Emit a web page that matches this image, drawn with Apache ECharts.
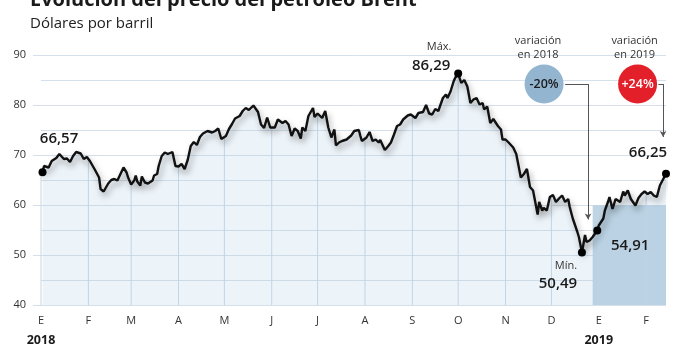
<!DOCTYPE html>
<html>
<head>
<meta charset="utf-8">
<script src="https://cdn.jsdelivr.net/npm/echarts@6/dist/echarts.min.js"></script>
<style>html,body{margin:0;padding:0;background:#fff}#chart{width:682px;height:351px}</style>
</head>
<body>
<div id="chart"></div>
<script>
// days since 2018-01-01 and Brent close (USD/barrel)
const days = [1,2,5,7,10,12,15,17,19,21,23,26,28,30,32,35,38,39,41,42,44,46,48,50,52,54,56,57,59,61,62,63,65,66,68,70,73,74,76,77,79,81,83,86,88,90,92,94,96,98,100,102,104,106,109,112,114,116,118,121,123,125,127,130,132,134,136,139,142,144,146,148,150,153,155,158,160,162,164,166,168,170,171,173,175,178,179,181,184,186,188,190,192,193,195,197,200,203,205,208,209,210,213,215,217,219,221,222,225,227,229,231,233,235,237,240,242,245,247,250,252,254,256,258,260,263,265,266,268,270,271,273,275,277,279,281,283,285,287,289,290,292,294,296,299,301,302,304,306,309,311,312,314,316,318,320,322,323,325,326,328,329,331,333,335,337,339,341,343,345,346,348,349,351,352,354,356,357,359,361,364,365,368,369,371,372,374,375,376,379,381,382,384,386,387,389,391,393,395,397,399,401,403,405,409];
const prices = [66.57,67.8,67.5,68.8,69.4,70.2,69.2,69.3,68.6,69.8,70.6,70.3,69.2,69.6,68.8,67.2,65.5,63.2,62.7,62.9,64.3,65.0,65.2,64.9,66.2,67.5,66.5,65.5,64.1,64.9,65.9,64.7,63.9,65.7,64.5,64.3,64.9,65.9,66.2,67.8,69.8,70.5,70.2,70.6,67.8,67.7,68.2,67.2,69.0,71.8,72.6,72.0,73.6,74.3,74.8,74.5,74.8,75.3,73.2,73.8,75.2,76.2,77.3,77.8,78.8,79.4,79.0,79.9,78.6,76.1,75.4,77.5,75.5,75.5,77.1,76.4,76.8,76.1,73.8,75.3,74.8,73.3,75.5,74.8,77.8,79.4,77.6,78.3,77.4,78.8,75.5,73.5,75.1,71.9,72.5,72.8,73.1,73.9,74.8,75.0,73.8,72.8,73.5,74.6,72.8,73.1,72.5,73.0,71.0,71.7,72.5,74.1,75.8,76.1,77.1,77.9,78.1,77.4,78.4,78.6,80.0,78.3,78.1,79.2,78.8,81.4,82.1,81.4,82.7,84.7,85.4,86.29,84.4,85.0,83.7,80.4,81.1,81.4,80.1,80.4,79.1,79.7,76.4,77.2,75.8,75.1,73.1,73.1,72.5,71.5,70.2,69.8,65.5,66.2,67.2,63.6,62.9,62.6,58.1,60.6,58.9,59.4,58.9,61.6,62.0,60.6,61.3,61.9,60.6,61.2,59.6,57.3,57.6,54.6,53.6,50.49,54.0,52.6,52.9,53.6,54.91,55.9,57.3,58.9,60.6,61.6,59.2,60.2,61.2,60.6,62.7,61.9,62.9,61.2,61.6,59.9,61.4,62.2,62.7,62.2,62.6,61.9,61.6,63.9,66.25];

const monthDays = [0,31,59,90,120,151,181,212,243,273,304,334,365,396];
const monthLabels = ['E','F','M','A','M','J','J','A','S','O','N','D','E','F'];
const yearLabels = {0: '2018', 365: '2019'};
const yTicks = [40, 90, 10]; // min, max, step
const changeLabels = ['-20%', '+24%'];
const changeYears = ['2018', '2019'];

const GRID = '#d5e0ea';
const FONT = '"Open Sans", "Noto Sans", sans-serif';
const fmt = v => v.toFixed(2).replace('.', ',');
const priceOn = d => prices[days.indexOf(d)];
const nearest = d => {
  let b = 0;
  days.forEach((x, i) => { if (Math.abs(x - d) < Math.abs(days[b] - d)) b = i; });
  return prices[b];
};
const lastDay = days[days.length - 1];
const maxDay = days[prices.indexOf(Math.max(...prices))];
const minDay = days[prices.indexOf(Math.min(...prices))];
const firstDay2019 = days.find(d => d >= 364);
const lastDay2018 = days[days.indexOf(firstDay2019) - 1];

function dot(day, offset) {
  return {
    coord: [day, priceOn(day)], symbol: 'circle', symbolSize: 8, itemStyle: {color: '#000'},
    label: {show: true, position: 'inside', offset, formatter: fmt(priceOn(day)),
      fontFamily: FONT, fontSize: 15, fontWeight: 600, color: '#1a1a1a'}
  };
}
function note(coord, text, offset, style) {
  return {
    coord, symbol: 'circle', symbolSize: 0, itemStyle: {color: 'transparent'},
    label: Object.assign({show: true, position: 'inside', offset, formatter: text,
      fontFamily: FONT, fontSize: 11, color: '#333', lineHeight: 14}, style || {})
  };
}
function bubble(coord, text, color, textColor) {
  return {
    coord, symbol: 'circle', symbolSize: 39, itemStyle: {color},
    label: {show: true, position: 'inside', formatter: text, fontFamily: FONT,
      fontSize: 12.5, fontWeight: 600, color: textColor}
  };
}

const bubbleY = 84.2;
const chart = echarts.init(document.getElementById('chart'), null, {renderer: 'canvas'});
chart.setOption({
  animation: false,
  textStyle: {fontFamily: FONT},
  graphic: [
    {type: 'text', x: 30, y: 0, style: {text: 'Evolución del precio del petróleo Brent',
      font: 'bold 20px ' + FONT, fill: '#1a1a1a', verticalAlign: 'middle'}},
    {type: 'text', x: 30, y: 24, style: {text: 'Dólares por barril',
      font: '15px ' + FONT, fill: '#222', verticalAlign: 'middle'}}
  ],
  grid: {left: 41, right: 16, top: 55, bottom: 44},
  xAxis: {
    type: 'value', min: 0, max: lastDay,
    axisLine: {show: false}, axisTick: {show: false}, splitLine: {show: false},
    axisLabel: {
      customValues: monthDays, margin: 8, color: '#333', fontSize: 11, lineHeight: 16,
      formatter: v => {
        const m = monthLabels[monthDays.indexOf(v)];
        return yearLabels[v] ? m + '\n{y|' + yearLabels[v] + '}' : m;
      },
      rich: {y: {fontSize: 12.5, fontWeight: 'bold', color: '#1a1a1a', lineHeight: 22}}
    }
  },
  yAxis: {
    type: 'value', min: yTicks[0], max: yTicks[1], interval: yTicks[2],
    axisLine: {show: false},
    axisTick: {show: true, length: 8, lineStyle: {color: GRID}},
    axisLabel: {margin: 15, color: '#333', fontSize: 11, padding: [0, 0, 7, 0]},
    splitLine: {lineStyle: {color: GRID}},
    minorTick: {show: false, splitNumber: 2},
    minorSplitLine: {show: true, lineStyle: {color: GRID}}
  },
  series: [
    {
      // month gridlines, only under the price line
      type: 'bar', barWidth: 1, silent: true,
      itemStyle: {color: '#c8d8e4'},
      data: monthDays.map(d => [d, nearest(d)]),
      markArea: {
        silent: true, itemStyle: {color: '#c0d5e4'},
        data: [[{coord: [lastDay2018, yTicks[0]]}, {coord: [lastDay, 60]}]]
      }
    },
    {
      type: 'line', showSymbol: false, silent: true, clip: false,
      data: days.map((d, i) => [d, prices[i]]),
      lineStyle: {color: '#111', width: 2.4, shadowColor: 'rgba(0,0,0,0.38)', shadowBlur: 6,
        shadowOffsetX: 2, shadowOffsetY: 4},
      areaStyle: {origin: 'start', color: 'rgba(160,195,222,0.27)'},
      markLine: {
        silent: true, symbol: ['none', 'none'], label: {show: false},
        lineStyle: {color: '#555', width: 1, type: 'solid'},
        data: [
          [{coord: [343, bubbleY]}, {coord: [358, bubbleY]}],
          [{coord: [358, bubbleY]}, {coord: [358, 57.1], symbol: 'arrow', symbolSize: [5, 6]}],
          [{coord: [404, bubbleY]}, {coord: [407.1, bubbleY]}],
          [{coord: [407.1, bubbleY]}, {coord: [407.1, 73.6], symbol: 'arrow', symbolSize: [5, 6]}]
        ]
      },
      markPoint: {
        silent: true,
        data: [
          dot(days[0], [16.5, -33]),
          dot(maxDay, [-27, -8]),
          note([maxDay, priceOn(maxDay)], 'Máx.', [-19, -27]),
          dot(minDay, [-24, 31]),
          note([minDay, priceOn(minDay)], 'Mín.', [-16, 13]),
          dot(firstDay2019, [33, 15]),
          dot(lastDay, [-18, -21]),
          bubble([329.2, bubbleY], changeLabels[0], '#93b5cf', '#1a1a1a'),
          bubble([390.4, bubbleY], changeLabels[1], '#e3202a', '#fff'),
          note([329.2, bubbleY], 'variación\nen ' + changeYears[0], [-6, -36], {fontSize: 11}),
          note([390.4, bubbleY], 'variación\nen ' + changeYears[1], [-3, -36], {fontSize: 11})
        ]
      }
    }
  ]
});
</script>
</body>
</html>
